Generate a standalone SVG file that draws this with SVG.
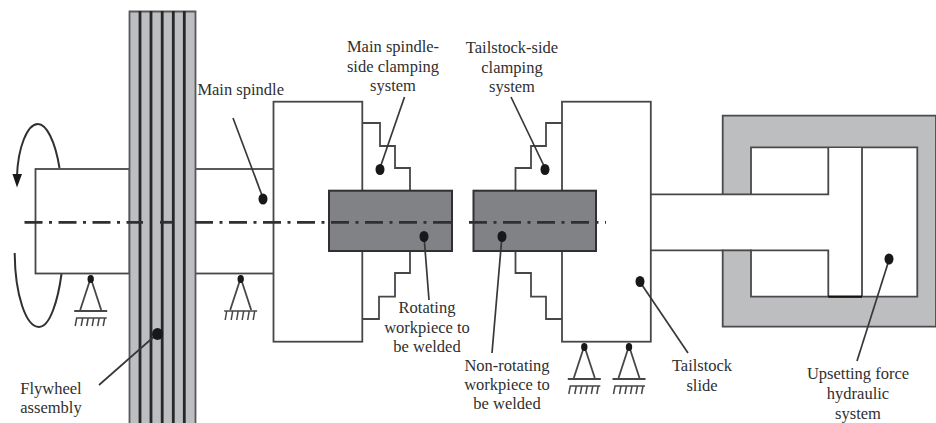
<svg xmlns="http://www.w3.org/2000/svg" width="936" height="423" viewBox="0 0 936 423">
<defs>
<style>
.l{fill:none;stroke:#47474a;stroke-width:1.8}
.w{fill:#fff;stroke:#47474a;stroke-width:1.8}
.g{fill:#bcbec1}
.fw{fill:none;stroke:#27272a;stroke-width:2.8}
.c{fill:none;stroke:#38383a;stroke-width:1.7}
.d{fill:#18181a}
.cl{fill:none;stroke:#303032;stroke-width:2.8}
.a{fill:none;stroke:#303032;stroke-width:2}
text{font-family:"Liberation Serif","Times New Roman",serif;font-size:16.5px;fill:#2f2f2f;text-anchor:middle}
</style>
<g id="sup">
<path class="l" d="M0 0L-10.500 32M0 0L10.500 32"/>
<ellipse class="d" rx="3.200" ry="4" cy="1"/>
<path class="l" d="M-16.500 33H16.500" style="stroke-width:2.200"/>
<path class="l" style="stroke-width:1.500" d="M-15.500 48L-14 40H16M-9.500 48L-8 40M-4 48L-2.500 40M1.500 48L3 40M7 48L8.500 40M12.500 48L14 40"/>
</g>
<g id="sup2">
<path class="l" d="M0 0L-10.500 32M0 0L10.500 32"/>
<ellipse class="d" rx="3.200" ry="4" cy="1"/>
<path class="l" style="stroke-width:1.500" d="M-16.500 33H16.500M-15.500 42L-14 33M-9.500 42L-8 33M-4 42L-2.500 33M1.500 42L3 33M7 42L8.500 33M12.500 42L14 33"/>
</g>
</defs>
<rect width="936" height="423" fill="#fff"/>
<g id="spindle">
<rect class="w" x="35.500" y="169" width="94" height="104.500"/>
<rect class="w" x="195" y="169" width="79" height="104.500"/>
</g>
<g id="flywheel">
<rect class="g" x="129.500" y="11" width="66" height="412"/>
<path class="l" d="M129.500 423V11.500H195.500V423" style="stroke:#58585b"/>
<path class="fw" d="M140 11V423M151 11V423M162.200 11V423M173.300 11V423M184.300 11V423"/>
</g>
<g id="spindle-body">
<rect class="w" x="273.500" y="101.700" width="88.800" height="240"/>
</g>
<g id="main-clamp">
<path class="l" d="M362.300 123H380V146H395V168H410V190.700M410 251V273H395V296.700H379V319H362.300"/>
</g>
<g id="tailstock-clamp">
<path class="l" d="M562 123H546V146H531V168H515.500V190.700M515.500 251V273H531V296.700H546V319H562"/>
</g>
<g id="tailstock">
<rect class="w" x="562" y="101.700" width="88.800" height="240"/>
</g>
<g id="workpiece-rotating">
<rect x="329" y="190.700" width="123" height="60.300" fill="#818286" stroke="#303032" stroke-width="2"/>
</g>
<g id="workpiece-fixed">
<rect x="473.500" y="190.700" width="122.500" height="60.300" fill="#818286" stroke="#303032" stroke-width="2"/>
</g>
<g id="hydraulic">
<path fill="#bdbec0" fill-rule="evenodd" stroke="#4a4a4c" stroke-width="1.800" d="M936 115.700H722.700V326.700H936ZM751 147.300H917.300V296.700H751Z"/>
<path fill="#fff" d="M652 195H828.300V148H862V296H828.300V249.500H652Z"/>
<path class="l" d="M650.800 194.300H828.300V147.300M650.800 250.300H828.300V296.700M862 147.300V296.700"/>
<path d="M828.300 296.700H862" stroke="#111" stroke-width="2.200" fill="none"/>
</g>
<g id="supports">
<use href="#sup" x="90.700" y="278"/>
<use href="#sup2" x="240.700" y="278"/>
<use href="#sup" x="584.300" y="346"/>
<use href="#sup" x="629" y="346"/>
</g>
<g id="connectors">
<path class="cl" d="M24.500 222.300H143" stroke-dasharray="18 6.500 3 6.500"/>
<path class="cl" d="M160 222.300H173"/>
<path class="cl" d="M195 222.300H457" stroke-dasharray="18 6.500 3 6.500"/>
<path class="cl" d="M469 222.300H606" stroke-dasharray="18 6.500 3 6.500"/>
<path class="a" d="M59.500 168C55 140 46 124 38 124C27 124 18 148 17 176"/>
<path class="d" d="M12.500 174H22L17 187.500Z"/>
<path class="a" d="M14.700 253C15 295 26 327 39 327C50 327 58 300 61.500 274"/>
<path class="c" d="M233 118L263 198"/>
<ellipse class="d" cx="263" cy="199" rx="4.500" ry="5.500"/>
<path class="c" d="M404.500 97L380 168"/>
<ellipse class="d" cx="380" cy="169.500" rx="4.500" ry="5.500"/>
<path class="c" d="M511 97L545 168"/>
<ellipse class="d" cx="545" cy="169.500" rx="4.500" ry="5.500"/>
<path class="c" d="M424 236L429 300"/>
<ellipse class="d" cx="424" cy="236.500" rx="4.500" ry="5.500"/>
<path class="c" d="M502 236L492 353"/>
<ellipse class="d" cx="502" cy="236.500" rx="4.500" ry="5.500"/>
<path class="c" d="M640 282L688 353"/>
<ellipse class="d" cx="640" cy="281.500" rx="4.500" ry="5.500"/>
<path class="c" d="M889 260L857 361"/>
<ellipse class="d" cx="889" cy="259" rx="4.500" ry="5.500"/>
<path class="c" d="M157 334L99 385"/>
<ellipse class="d" cx="157.500" cy="334" rx="5.500" ry="6"/>
</g>
<g id="labels">
<text x="240.700" y="95">Main spindle</text>
<text x="393" y="52">Main spindle-</text>
<text x="393" y="72">side clamping</text>
<text x="393" y="91">system</text>
<text x="512" y="53">Tailstock-side</text>
<text x="512" y="73">clamping</text>
<text x="512" y="92">system</text>
<text x="427" y="313">Rotating</text>
<text x="427" y="333">workpiece to</text>
<text x="427" y="352">be welded</text>
<text x="507" y="371">Non-rotating</text>
<text x="507" y="390">workpiece to</text>
<text x="507" y="409">be welded</text>
<text x="702" y="371">Tailstock</text>
<text x="702" y="391">slide</text>
<text x="858" y="379">Upsetting force</text>
<text x="858" y="399">hydraulic</text>
<text x="858" y="419">system</text>
<text x="51" y="394">Flywheel</text>
<text x="51" y="413">assembly</text>
</g>
</svg>
